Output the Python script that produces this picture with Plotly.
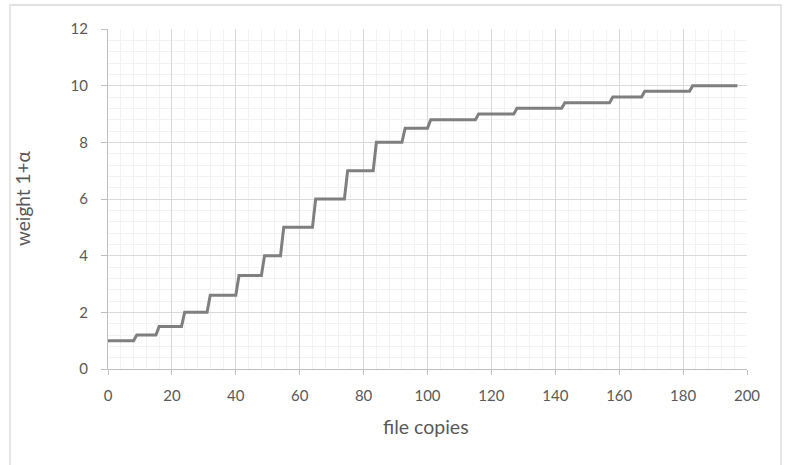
import plotly.graph_objects as go

# step start positions (file copies) and weight levels
step_x = [0, 9, 16, 24, 32, 41, 49, 55, 65, 75, 84, 93, 101, 116, 128, 143, 158, 168, 183]
levels = [1, 1.2, 1.5, 2, 2.6, 3.3, 4, 5, 6, 7, 8, 8.5, 8.8, 9, 9.2, 9.4, 9.6, 9.8, 10]
last_x = 197
x_ticks = [0, 20, 40, 60, 80, 100, 120, 140, 160, 180, 200]
y_ticks = [0, 2, 4, 6, 8, 10, 12]

xs, ys = [], []
for i, (sx, lv) in enumerate(zip(step_x, levels)):
    end = step_x[i + 1] - 1 if i + 1 < len(step_x) else last_x
    xs += [sx, end]
    ys += [lv, lv]

fig = go.Figure(go.Scatter(x=xs, y=ys, mode="lines",
                           line=dict(color="#7f7f7f", width=3),
                           showlegend=False, hoverinfo="skip"))

W, H = 786, 465
L, T = 108, 29
pw, ph = 639, 340
R = W - L - pw
B = H - T - ph

def px(x):
    return (x - L) / pw

def py(y):
    return (T + ph - y) / ph

font = "Lato, Open Sans, sans-serif"
fig.update_layout(
    width=W, height=H,
    margin=dict(l=L, r=R, t=T, b=B, autoexpand=False),
    paper_bgcolor="white", plot_bgcolor="white",
    font=dict(family=font, color="#595959", size=15),
    shapes=[dict(type="rect", xref="paper", yref="paper",
                 x0=px(10), x1=px(781), y0=py(480), y1=py(5),
                 line=dict(color="#d9d9d9", width=1.3), layer="below")],
    annotations=[
        dict(text="file copies", xref="paper", yref="paper", x=px(426), y=py(426),
             showarrow=False, font=dict(size=19.5, color="#595959"), xanchor="center", yanchor="middle"),
        dict(text="weight 1+α", xref="paper", yref="paper", x=px(22), y=py(199),
             showarrow=False, textangle=-90, font=dict(size=19, color="#595959"),
             xanchor="center", yanchor="middle"),
    ],
)
fig.update_xaxes(range=[0, 200], tickvals=x_ticks, ticktext=[str(v) for v in x_ticks],
                 showgrid=True, gridcolor="#d9d9d9", gridwidth=1,
                 minor=dict(dtick=4, showgrid=True, gridcolor="#f2f2f2", gridwidth=1, tick0=0),
                 showline=True, linecolor="#bfbfbf", linewidth=1,
                 ticks="outside", ticklen=5, tickcolor="#bfbfbf",
                 ticklabelstandoff=8,
                 zeroline=False, tickfont=dict(size=15, color="#595959"))
fig.update_yaxes(range=[0, 12], tickvals=y_ticks, ticktext=[str(v) for v in y_ticks],
                 showgrid=True, gridcolor="#d9d9d9", gridwidth=1,
                 minor=dict(dtick=0.4, showgrid=True, gridcolor="#f2f2f2", gridwidth=1, tick0=0),
                 showline=True, linecolor="#bfbfbf", linewidth=1,
                 ticks="outside", ticklen=6, tickcolor="#bfbfbf",
                 ticklabelstandoff=10,
                 zeroline=False, tickfont=dict(size=15, color="#595959"))

fig.write_html("out.html", config={"displayModeBar": False},
               post_script="document.body.style.margin='0';document.body.style.overflow='hidden';")
